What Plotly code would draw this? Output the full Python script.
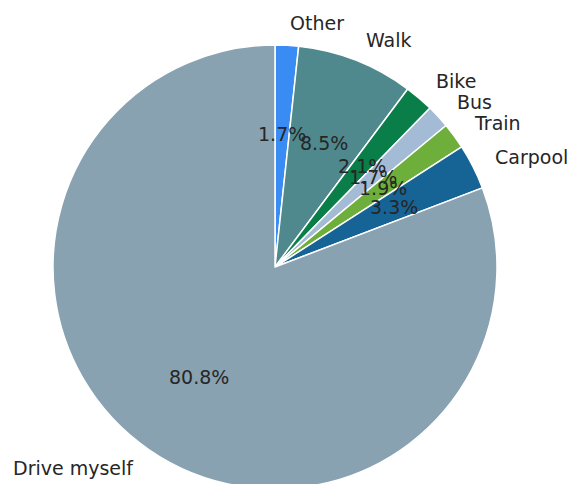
import math
import plotly.graph_objects as go

labels = ["Other", "Walk", "Bike", "Bus", "Train", "Carpool", "Drive myself"]
values = [1.7, 8.5, 2.1, 1.7, 1.9, 3.3, 80.8]
colors = ["#3a8cf5", "#4f898e", "#0a7e48", "#a4bbd6", "#6eae3a", "#166396", "#89a2b1"]

W, H = 577, 505
L, T, R = 45, 37, 444
fig = go.Figure(go.Pie(
    labels=labels, values=values, sort=False, direction="clockwise", rotation=0,
    marker=dict(colors=colors, line=dict(color="white", width=1.5)),
    textinfo="none", hoverinfo="label+percent", showlegend=False,
    domain=dict(x=[0, 1], y=[0, 1]),
))

total = sum(values)
cum = 0.0
ann = []
for lab, v in zip(labels, values):
    mid = (cum + v / 2) / total * 2 * math.pi
    cum += v
    s, c = math.sin(mid), math.cos(mid)
    ann.append(dict(x=0.5 + 0.5 * 1.1 * s, y=0.5 + 0.5 * 1.1 * c, xref="paper", yref="paper",
                    text=lab, showarrow=False, xanchor="left" if s > 0 else "right",
                    yanchor="middle", font=dict(size=19, color="#262626")))
    ann.append(dict(x=0.5 + 0.5 * 0.6 * s, y=0.5 + 0.5 * 0.6 * c, xref="paper", yref="paper",
                    text=f"{v / total * 100:.1f}%", showarrow=False, xanchor="center",
                    yanchor="middle", font=dict(size=19, color="#262626")))

fig.update_layout(
    width=W, height=H,
    margin=dict(l=L, t=T, r=W - L - R, b=H - T - R, pad=0),
    paper_bgcolor="white", plot_bgcolor="white",
    font=dict(family="DejaVu Sans"),
    annotations=ann,
)
fig.write_html("out.html")
